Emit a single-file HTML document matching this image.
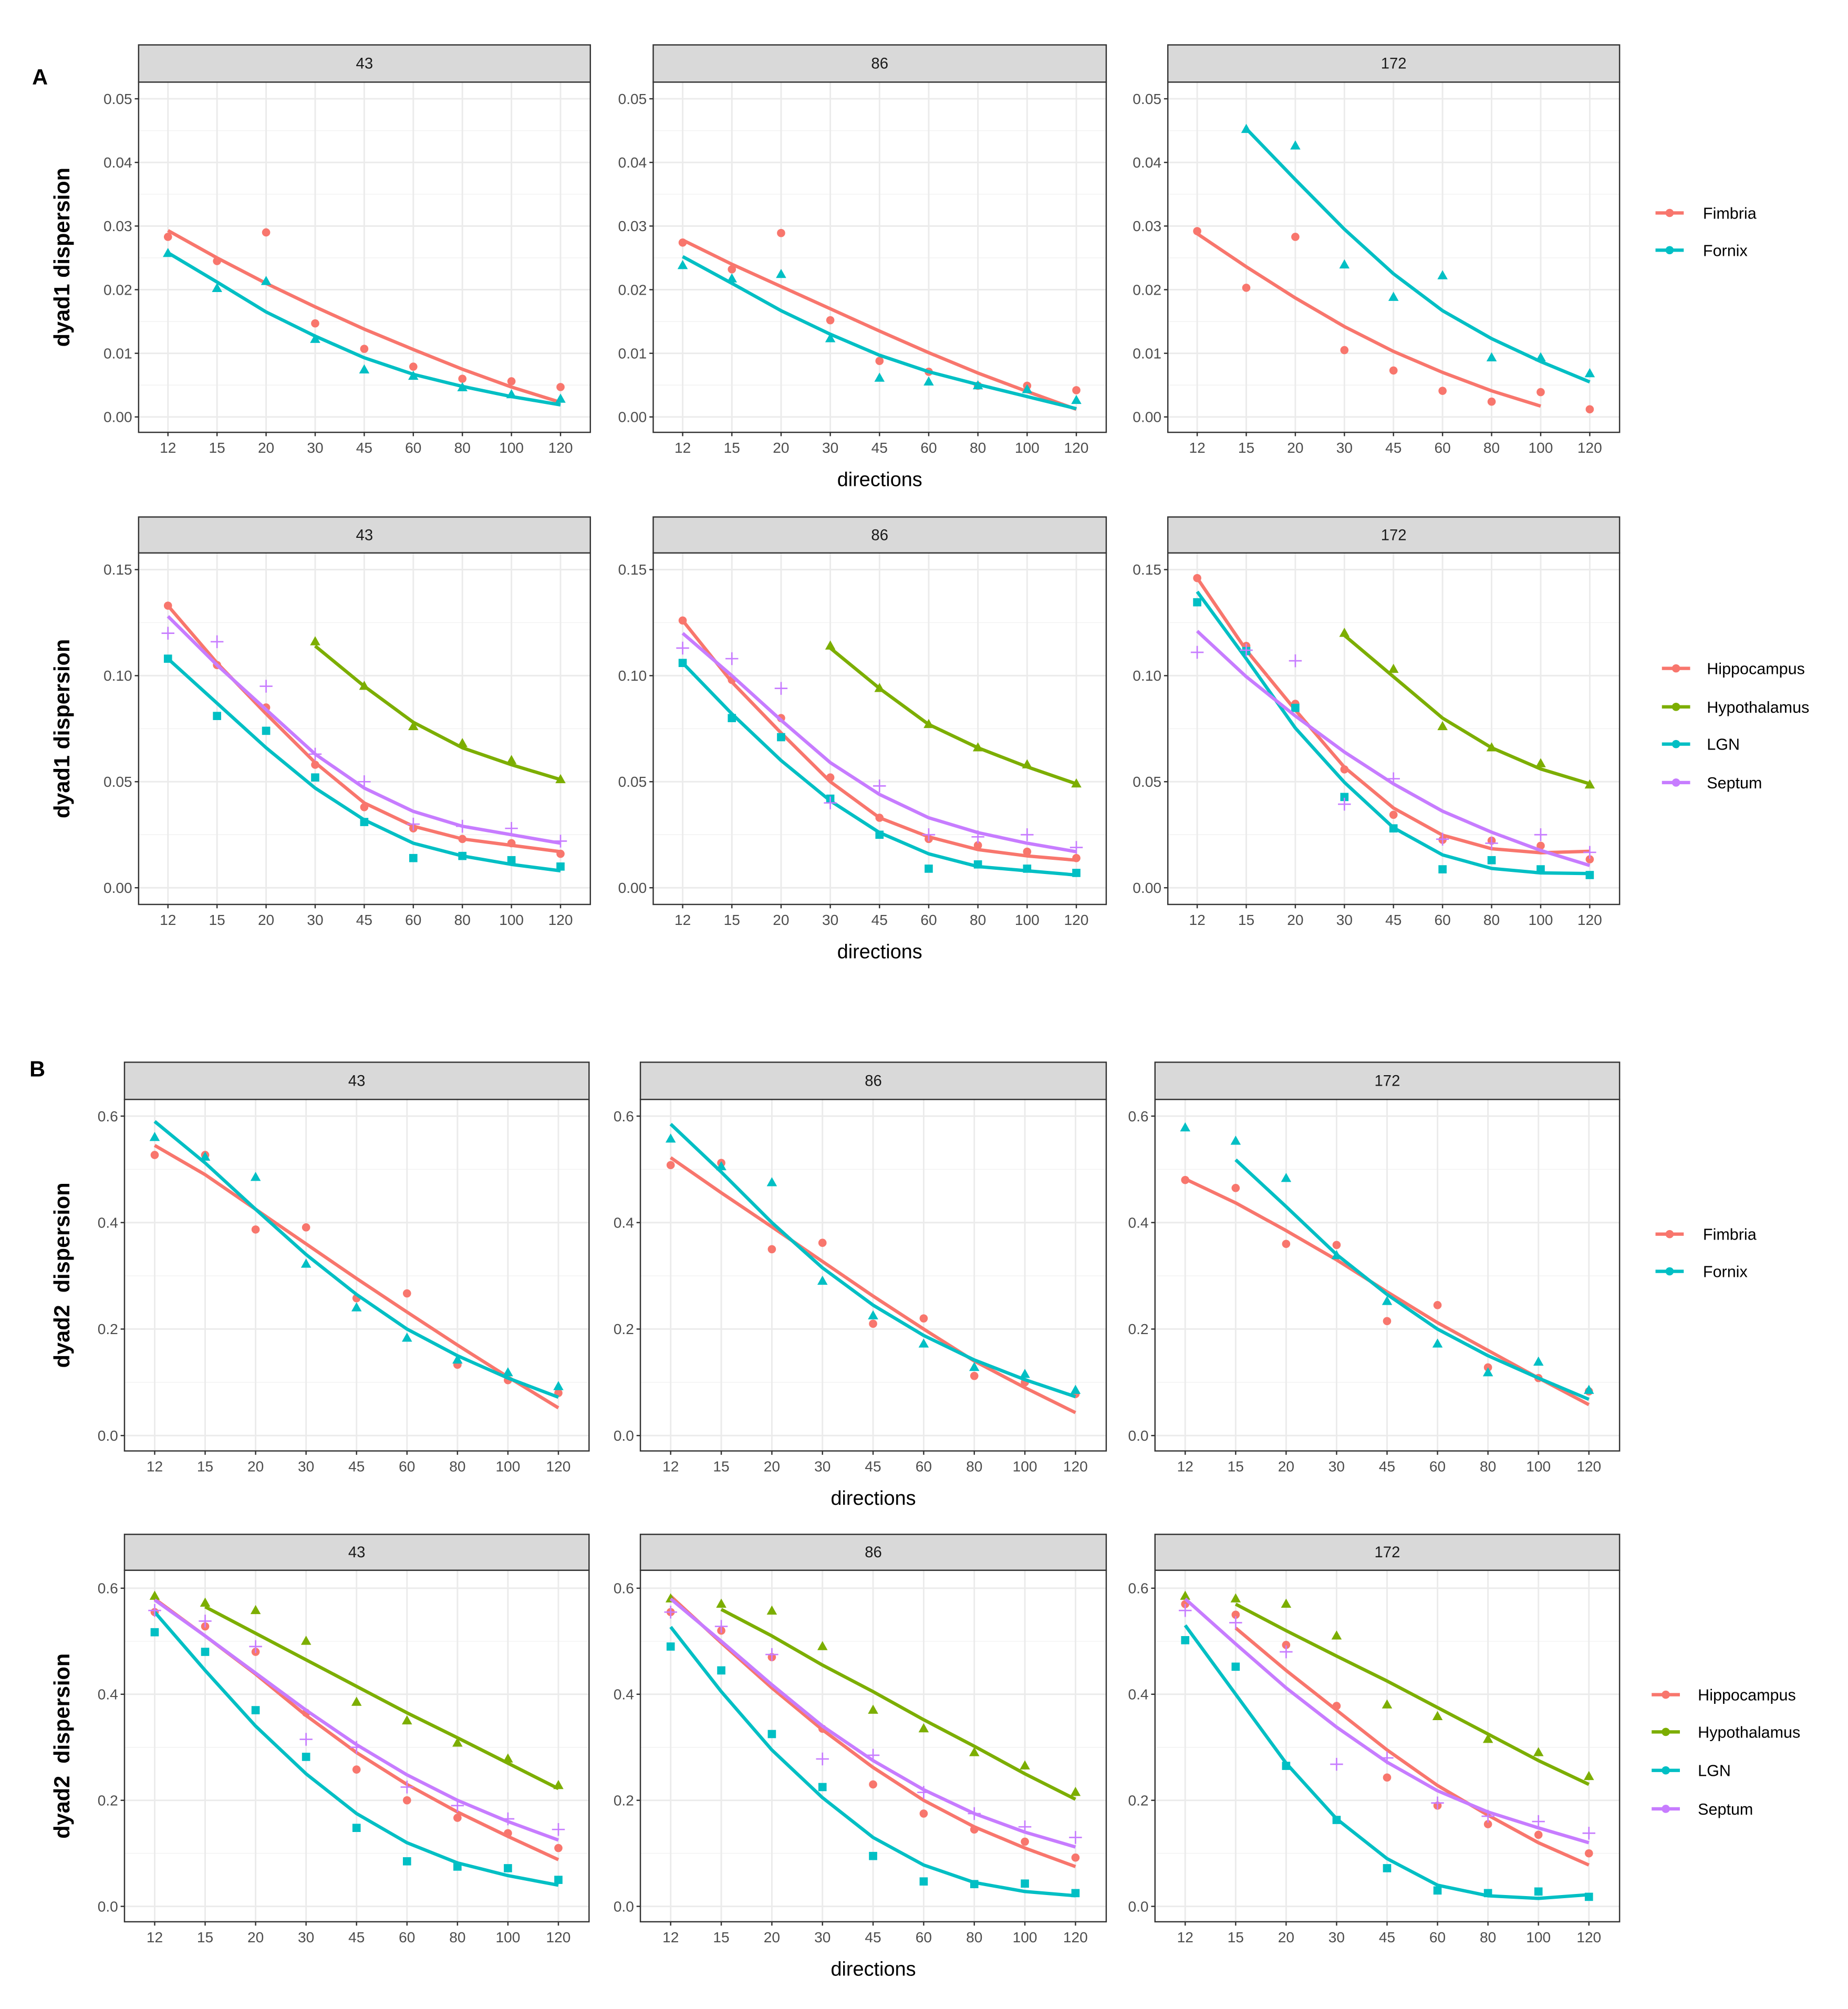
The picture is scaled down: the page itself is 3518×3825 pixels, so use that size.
<!DOCTYPE html>
<html><head><meta charset="utf-8"><style>
html,body{margin:0;padding:0;background:#fff;}
svg{display:block;font-family:"Liberation Sans",Arial,sans-serif;}
</style></head><body>
<svg id="fig" width="3518" height="3825" viewBox="0 0 1440 1566" preserveAspectRatio="none" xmlns="http://www.w3.org/2000/svg">
<text x="25" y="66" font-size="17" font-weight="bold">A</text>
<text x="23" y="839" font-size="17" font-weight="bold">B</text>
</svg>
<script>
const directions=["12","15","20","30","45","60","80","100","120"];
const facets=["43","86","172"];
const N=null;
// Row A1 (dyad1, Fimbria/Fornix)
const A1_43_Fimbria_pts=[0.0283,0.0245,0.029,0.0147,0.0107,0.0079,0.006,0.0056,0.0047];
const A1_43_Fimbria_fit=[0.0293,0.025,0.021,0.0173,0.0138,0.0106,0.0075,0.0047,0.0023];
const A1_43_Fornix_pts=[0.0257,0.0202,0.0213,0.0122,0.0074,0.0064,0.0046,0.0035,0.0028];
const A1_43_Fornix_fit=[0.0258,0.0212,0.0165,0.0127,0.0093,0.0067,0.0048,0.0032,0.0019];
const A1_86_Fimbria_pts=[0.0274,0.0232,0.0289,0.0152,0.0088,0.0071,0.0049,0.0049,0.0042];
const A1_86_Fimbria_fit=[0.0278,0.024,0.0205,0.017,0.0135,0.0101,0.0069,0.004,0.0012];
const A1_86_Fornix_pts=[0.0238,0.0217,0.0224,0.0123,0.0061,0.0055,0.0049,0.0043,0.0026];
const A1_86_Fornix_fit=[0.0252,0.021,0.0167,0.013,0.0097,0.0071,0.0051,0.0032,0.0013];
const A1_172_Fimbria_pts=[0.0292,0.0203,0.0283,0.0105,0.0073,0.0041,0.0024,0.0039,0.0012];
const A1_172_Fimbria_fit=[0.0288,0.0236,0.0187,0.0142,0.0103,0.007,0.0041,0.0017,N];
const A1_172_Fornix_pts=[N,0.0452,0.0426,0.0239,0.0188,0.0222,0.0093,0.0093,0.0068];
const A1_172_Fornix_fit=[N,0.0453,0.0373,0.0295,0.0225,0.0167,0.0123,0.0087,0.0055];
// Row A2 (dyad1, four regions)
const A2_43_Hippo_pts=[0.133,0.105,0.085,0.058,0.038,0.028,0.023,0.021,0.016];
const A2_43_Hippo_fit=[0.133,0.106,0.082,0.059,0.040,0.029,0.023,0.020,0.017];
const A2_43_Hypo_pts=[N,N,N,0.116,0.095,0.076,0.068,0.060,0.051];
const A2_43_Hypo_fit=[N,N,N,0.114,0.095,0.078,0.066,0.058,0.051];
const A2_43_LGN_pts=[0.108,0.081,0.074,0.052,0.031,0.014,0.015,0.013,0.010];
const A2_43_LGN_fit=[0.108,0.087,0.066,0.047,0.032,0.021,0.015,0.011,0.008];
const A2_43_Sept_pts=[0.120,0.116,0.095,0.063,0.050,0.030,0.029,0.028,0.022];
const A2_43_Sept_fit=[0.128,0.105,0.084,0.063,0.047,0.036,0.029,0.025,0.021];
const A2_86_Hippo_pts=[0.126,0.098,0.080,0.052,0.033,0.023,0.020,0.017,0.014];
const A2_86_Hippo_fit=[0.126,0.097,0.073,0.050,0.033,0.024,0.018,0.015,0.013];
const A2_86_Hypo_pts=[N,N,N,0.114,0.094,0.077,0.066,0.058,0.049];
const A2_86_Hypo_fit=[N,N,N,0.113,0.094,0.077,0.066,0.057,0.049];
const A2_86_LGN_pts=[0.106,0.080,0.071,0.042,0.025,0.009,0.011,0.009,0.007];
const A2_86_LGN_fit=[0.106,0.082,0.060,0.041,0.026,0.016,0.010,0.008,0.006];
const A2_86_Sept_pts=[0.113,0.108,0.094,0.040,0.048,0.025,0.024,0.025,0.019];
const A2_86_Sept_fit=[0.120,0.100,0.079,0.059,0.044,0.033,0.026,0.021,0.017];
const A2_172_Hippo_pts=[0.146,0.114,0.0867,0.0558,0.0344,0.0226,0.0222,0.0198,0.0134];
const A2_172_Hippo_fit=[0.146,0.112,0.0838,0.0568,0.0376,0.0248,0.0184,0.0165,0.0172];
const A2_172_Hypo_pts=[N,N,N,0.120,0.103,0.076,0.066,0.0585,0.0485];
const A2_172_Hypo_fit=[N,N,N,0.119,0.0995,0.080,0.066,0.056,0.049];
const A2_172_LGN_pts=[0.1346,0.1116,0.0848,0.0428,0.028,0.0087,0.013,0.0087,0.006];
const A2_172_LGN_fit=[0.1396,0.108,0.0753,0.0497,0.0283,0.0155,0.0091,0.007,0.0067];
const A2_172_Sept_pts=[0.111,0.112,0.107,0.0394,0.0514,0.0229,0.021,0.025,0.0167];
const A2_172_Sept_fit=[0.121,0.0995,0.081,0.064,0.049,0.0361,0.0262,0.0176,0.0105];
// Row B1 (dyad2, Fimbria/Fornix)
const B1_43_Fimbria_pts=[0.527,0.527,0.387,0.391,0.258,0.267,0.133,0.104,0.080];
const B1_43_Fimbria_fit=[0.545,0.490,0.425,0.360,0.295,0.232,0.170,0.110,0.052];
const B1_43_Fornix_pts=[0.560,0.523,0.485,0.322,0.240,0.183,0.142,0.118,0.092];
const B1_43_Fornix_fit=[0.590,0.512,0.425,0.340,0.265,0.200,0.150,0.108,0.072];
const B1_86_Fimbria_pts=[0.508,0.512,0.350,0.362,0.210,0.220,0.112,0.100,0.078];
const B1_86_Fimbria_fit=[0.522,0.456,0.392,0.327,0.262,0.200,0.140,0.090,0.043];
const B1_86_Fornix_pts=[0.557,0.505,0.475,0.290,0.225,0.172,0.128,0.115,0.085];
const B1_86_Fornix_fit=[0.585,0.495,0.400,0.315,0.245,0.188,0.142,0.105,0.073];
const B1_172_Fimbria_pts=[0.480,0.465,0.360,0.358,0.215,0.245,0.128,0.108,0.083];
const B1_172_Fimbria_fit=[0.482,0.437,0.385,0.330,0.270,0.212,0.160,0.108,0.058];
const B1_172_Fornix_pts=[0.578,0.553,0.483,0.338,0.252,0.172,0.118,0.138,0.085];
const B1_172_Fornix_fit=[N,0.518,0.430,0.340,0.265,0.200,0.150,0.108,0.068];
// Row B2 (dyad2, four regions)
const B2_43_Hippo_pts=[0.555,0.528,0.480,0.365,0.258,0.200,0.167,0.138,0.110];
const B2_43_Hippo_fit=[0.580,0.510,0.438,0.360,0.290,0.230,0.178,0.132,0.088];
const B2_43_Hypo_pts=[0.585,0.572,0.558,0.500,0.385,0.350,0.308,0.278,0.228];
const B2_43_Hypo_fit=[N,0.565,0.515,0.465,0.415,0.365,0.318,0.270,0.222];
const B2_43_LGN_pts=[0.517,0.480,0.370,0.282,0.148,0.085,0.075,0.072,0.050];
const B2_43_LGN_fit=[0.555,0.445,0.340,0.250,0.175,0.120,0.082,0.058,0.040];
const B2_43_Sept_pts=[0.558,0.538,0.490,0.315,0.300,0.225,0.190,0.165,0.145];
const B2_43_Sept_fit=[0.578,0.510,0.440,0.370,0.305,0.248,0.200,0.160,0.125];
const B2_86_Hippo_pts=[0.555,0.520,0.470,0.335,0.230,0.175,0.145,0.122,0.092];
const B2_86_Hippo_fit=[0.585,0.497,0.412,0.333,0.262,0.200,0.150,0.110,0.075];
const B2_86_Hypo_pts=[0.580,0.570,0.557,0.490,0.370,0.335,0.290,0.265,0.215];
const B2_86_Hypo_fit=[N,0.560,0.510,0.455,0.405,0.352,0.302,0.250,0.202];
const B2_86_LGN_pts=[0.490,0.445,0.325,0.225,0.095,0.047,0.042,0.043,0.025];
const B2_86_LGN_fit=[0.527,0.405,0.295,0.205,0.130,0.078,0.045,0.028,0.020];
const B2_86_Sept_pts=[0.555,0.528,0.475,0.278,0.285,0.215,0.175,0.150,0.130];
const B2_86_Sept_fit=[0.580,0.500,0.418,0.340,0.275,0.220,0.175,0.140,0.112];
const B2_172_Hippo_pts=[0.570,0.550,0.493,0.378,0.243,0.190,0.155,0.135,0.100];
const B2_172_Hippo_fit=[N,0.525,0.445,0.370,0.295,0.228,0.172,0.120,0.078];
const B2_172_Hypo_pts=[0.585,0.580,0.570,0.510,0.380,0.358,0.315,0.290,0.245];
const B2_172_Hypo_fit=[N,0.570,0.520,0.472,0.425,0.375,0.325,0.275,0.230];
const B2_172_LGN_pts=[0.502,0.452,0.265,0.163,0.072,0.030,0.025,0.028,0.018];
const B2_172_LGN_fit=[0.530,0.400,0.270,0.165,0.090,0.040,0.020,0.015,0.022];
const B2_172_Sept_pts=[0.558,0.535,0.480,0.268,0.280,0.195,0.170,0.160,0.138];
const B2_172_Sept_fit=[0.580,0.495,0.412,0.338,0.272,0.218,0.178,0.148,0.120];
const ticksA1=[0,0.01,0.02,0.03,0.04,0.05];
const tickLabA1=["0.00","0.01","0.02","0.03","0.04","0.05"];
const ticksA2=[0,0.05,0.10,0.15];
const tickLabA2=["0.00","0.05","0.10","0.15"];
const ticksB=[0,0.2,0.4,0.6];
const tickLabB=["0.0","0.2","0.4","0.6"];

const RED="#F8766D",GRN="#7CAE00",TEAL="#00BFC4",PURP="#C77CFF";
const svg=document.getElementById('fig');
const NS="http://www.w3.org/2000/svg";
function mk(tag,attrs,parent){const e=document.createElementNS(NS,tag);for(const k in attrs)e.setAttribute(k,attrs[k]);(parent||svg).appendChild(e);return e;}

const rows=[
 {id:"a1",top:35,stripH:29,bottom:337,y0:325,y1:77,vmax:0.05,ticks:ticksA1,labs:tickLabA1,minor:[0.005,0.015,0.025,0.035,0.045],
  cols:[[108,460],[509,862],[910,1262]],xlab:373,title:"dyad1 dispersion",titleX:48,
  series:[
   [{name:"Fimbria",col:RED,shape:"circle",pts:A1_43_Fimbria_pts,fit:A1_43_Fimbria_fit},{name:"Fornix",col:TEAL,shape:"tri",pts:A1_43_Fornix_pts,fit:A1_43_Fornix_fit}],
   [{name:"Fimbria",col:RED,shape:"circle",pts:A1_86_Fimbria_pts,fit:A1_86_Fimbria_fit},{name:"Fornix",col:TEAL,shape:"tri",pts:A1_86_Fornix_pts,fit:A1_86_Fornix_fit}],
   [{name:"Fimbria",col:RED,shape:"circle",pts:A1_172_Fimbria_pts,fit:A1_172_Fimbria_fit},{name:"Fornix",col:TEAL,shape:"tri",pts:A1_172_Fornix_pts,fit:A1_172_Fornix_fit}]],
  legend:{x:1290,tx:1327,ys:[166,195]}},
 {id:"a2",top:403,stripH:28,bottom:705,y0:692,y1:444,vmax:0.15,ticks:ticksA2,labs:tickLabA2,minor:[0.025,0.075,0.125],
  cols:[[108,460],[509,862],[910,1262]],xlab:741,title:"dyad1 dispersion",titleX:48,
  series:[
   [{name:"Hippocampus",col:RED,shape:"circle",pts:A2_43_Hippo_pts,fit:A2_43_Hippo_fit},{name:"Hypothalamus",col:GRN,shape:"tri",pts:A2_43_Hypo_pts,fit:A2_43_Hypo_fit},{name:"LGN",col:TEAL,shape:"sq",pts:A2_43_LGN_pts,fit:A2_43_LGN_fit},{name:"Septum",col:PURP,shape:"plus",pts:A2_43_Sept_pts,fit:A2_43_Sept_fit}],
   [{name:"Hippocampus",col:RED,shape:"circle",pts:A2_86_Hippo_pts,fit:A2_86_Hippo_fit},{name:"Hypothalamus",col:GRN,shape:"tri",pts:A2_86_Hypo_pts,fit:A2_86_Hypo_fit},{name:"LGN",col:TEAL,shape:"sq",pts:A2_86_LGN_pts,fit:A2_86_LGN_fit},{name:"Septum",col:PURP,shape:"plus",pts:A2_86_Sept_pts,fit:A2_86_Sept_fit}],
   [{name:"Hippocampus",col:RED,shape:"circle",pts:A2_172_Hippo_pts,fit:A2_172_Hippo_fit},{name:"Hypothalamus",col:GRN,shape:"tri",pts:A2_172_Hypo_pts,fit:A2_172_Hypo_fit},{name:"LGN",col:TEAL,shape:"sq",pts:A2_172_LGN_pts,fit:A2_172_LGN_fit},{name:"Septum",col:PURP,shape:"plus",pts:A2_172_Sept_pts,fit:A2_172_Sept_fit}]],
  legend:{x:1295,tx:1330,ys:[521,551,580,610]}},
 {id:"b1",top:828,stripH:29,bottom:1131,y0:1119,y1:870,vmax:0.6,ticks:ticksB,labs:tickLabB,minor:[0.1,0.3,0.5],
  cols:[[97,459],[499,862],[900,1262]],xlab:1167,title:"dyad2\u00a0\u00a0dispersion",titleX:48,
  series:[
   [{name:"Fimbria",col:RED,shape:"circle",pts:B1_43_Fimbria_pts,fit:B1_43_Fimbria_fit},{name:"Fornix",col:TEAL,shape:"tri",pts:B1_43_Fornix_pts,fit:B1_43_Fornix_fit}],
   [{name:"Fimbria",col:RED,shape:"circle",pts:B1_86_Fimbria_pts,fit:B1_86_Fimbria_fit},{name:"Fornix",col:TEAL,shape:"tri",pts:B1_86_Fornix_pts,fit:B1_86_Fornix_fit}],
   [{name:"Fimbria",col:RED,shape:"circle",pts:B1_172_Fimbria_pts,fit:B1_172_Fimbria_fit},{name:"Fornix",col:TEAL,shape:"tri",pts:B1_172_Fornix_pts,fit:B1_172_Fornix_fit}]],
  legend:{x:1290,tx:1327,ys:[962,991]}},
 {id:"b2",top:1196,stripH:28,bottom:1498,y0:1486,y1:1238,vmax:0.6,ticks:ticksB,labs:tickLabB,minor:[0.1,0.3,0.5],
  cols:[[97,459],[499,862],[900,1262]],xlab:1534,title:"dyad2\u00a0\u00a0dispersion",titleX:48,
  series:[
   [{name:"Hippocampus",col:RED,shape:"circle",pts:B2_43_Hippo_pts,fit:B2_43_Hippo_fit},{name:"Hypothalamus",col:GRN,shape:"tri",pts:B2_43_Hypo_pts,fit:B2_43_Hypo_fit},{name:"LGN",col:TEAL,shape:"sq",pts:B2_43_LGN_pts,fit:B2_43_LGN_fit},{name:"Septum",col:PURP,shape:"plus",pts:B2_43_Sept_pts,fit:B2_43_Sept_fit}],
   [{name:"Hippocampus",col:RED,shape:"circle",pts:B2_86_Hippo_pts,fit:B2_86_Hippo_fit},{name:"Hypothalamus",col:GRN,shape:"tri",pts:B2_86_Hypo_pts,fit:B2_86_Hypo_fit},{name:"LGN",col:TEAL,shape:"sq",pts:B2_86_LGN_pts,fit:B2_86_LGN_fit},{name:"Septum",col:PURP,shape:"plus",pts:B2_86_Sept_pts,fit:B2_86_Sept_fit}],
   [{name:"Hippocampus",col:RED,shape:"circle",pts:B2_172_Hippo_pts,fit:B2_172_Hippo_fit},{name:"Hypothalamus",col:GRN,shape:"tri",pts:B2_172_Hypo_pts,fit:B2_172_Hypo_fit},{name:"LGN",col:TEAL,shape:"sq",pts:B2_172_LGN_pts,fit:B2_172_LGN_fit},{name:"Septum",col:PURP,shape:"plus",pts:B2_172_Sept_pts,fit:B2_172_Sept_fit}]],
  legend:{x:1287,tx:1323,ys:[1321,1350,1380,1410]}}
];

function drawShape(g,shape,x,y,col){
  let e;
  if(shape==="circle") e=mk('circle',{cx:x,cy:y,r:3.2,fill:col},g);
  else if(shape==="tri") e=mk('polygon',{points:`${x},${y-4.3} ${x-4},${y+2.8} ${x+4},${y+2.8}`,fill:col},g);
  else if(shape==="sq") e=mk('rect',{x:x-3.2,y:y-3.2,width:6.4,height:6.4,fill:col},g);
  else e=mk('path',{d:`M${x-5},${y}H${x+5}M${x},${y-5}V${y+5}`,stroke:col,'stroke-width':1.1,fill:'none'},g);
  return e;
}

rows.forEach(row=>{
  const panelTop=row.top+row.stripH;
  const yS=v=>row.y0-(v/row.vmax)*(row.y0-row.y1);
  row.cols.forEach((c,ci)=>{
    const [L,R]=c;const w=R-L;
    const x0=L+w*0.065, step=w*0.869/8;
    const xS=i=>x0+i*step;
    const g=mk('g',{});
    
    
    mk('rect',{x:L,y:panelTop,width:w,height:row.bottom-panelTop,fill:'#fff'},g);
    row.minor.forEach(v=>mk('line',{x1:L,x2:R,y1:yS(v),y2:yS(v),stroke:'#f2f2f2','stroke-width':0.6},g));
    row.ticks.forEach((v,i)=>{
      mk('line',{x1:L,x2:R,y1:yS(v),y2:yS(v),stroke:'#ebebeb','stroke-width':1.2},g);
      mk('line',{x1:L-3,x2:L,y1:yS(v),y2:yS(v),stroke:'#333','stroke-width':1},g);
      const t=mk('text',{x:L-5,y:yS(v)+4,'font-size':11.5,fill:'#4d4d4d','text-anchor':'end'},g);
      t.textContent=row.labs[i];
      
      
    });
    directions.forEach((d,i)=>{
      mk('line',{x1:xS(i),x2:xS(i),y1:panelTop,y2:row.bottom,stroke:'#ebebeb','stroke-width':1.2},g);
      mk('line',{x1:xS(i),x2:xS(i),y1:row.bottom,y2:row.bottom+3,stroke:'#333','stroke-width':1},g);
      const t=mk('text',{x:xS(i),y:row.bottom+16,'font-size':11.5,fill:'#4d4d4d','text-anchor':'middle'},g);
      t.textContent=d;
      
      
    });
    row.series[ci].forEach(s=>{
      let d="";let started=false;
      s.fit.forEach((v,i)=>{if(v===null)return;d+=(started?"L":"M")+xS(i).toFixed(2)+","+yS(v).toFixed(2);started=true;});
      const p=mk('path',{d:d,fill:'none',stroke:s.col,'stroke-width':2.6,'stroke-linejoin':'round'},g);
      
      
      s.pts.forEach((v,i)=>{if(v===null)return;
        const e=drawShape(g,s.shape,xS(i),yS(v),s.col);
        
        
      });
    });
    mk('rect',{x:L,y:panelTop,width:w,height:row.bottom-panelTop,fill:'none',stroke:'#333','stroke-width':1},g);
    const st=mk('rect',{x:L,y:row.top,width:w,height:row.stripH,fill:'#d9d9d9',stroke:'#333','stroke-width':1},g);
    
    
    const stt=mk('text',{x:(L+R)/2,y:row.top+row.stripH/2+4,'font-size':12,fill:'#1a1a1a','text-anchor':'middle'},g);
    stt.textContent=facets[ci];
    
    
  });
  const midX=(row.cols[1][0]+row.cols[1][1])/2;
  const xl=mk('text',{x:midX,y:row.xlab+6,'font-size':15.5,fill:'#000','text-anchor':'middle'});
  xl.textContent="directions";
  
  
  const midY=(row.top+row.stripH+row.bottom)/2;
  const yt=mk('text',{x:0,y:0,'font-size':17,'font-weight':'bold',fill:'#000','text-anchor':'middle',transform:`translate(${row.titleX+6},${midY}) rotate(-90)`});
  yt.textContent=row.title;
  
  
  const lg=mk('g',{});
  
  
  row.series[0].forEach((s,i)=>{
    const y=row.legend.ys[i];
    mk('line',{x1:row.legend.x,x2:row.legend.x+22,y1:y,y2:y,stroke:s.col,'stroke-width':2.6},lg);
    mk('circle',{cx:row.legend.x+11,cy:y,r:3.2,fill:s.col},lg);
    const t=mk('text',{x:row.legend.tx,y:y+4.5,'font-size':12.5,fill:'#000'},lg);
    t.textContent=s.name;
    
    
  });
});
</script>
</body></html>
